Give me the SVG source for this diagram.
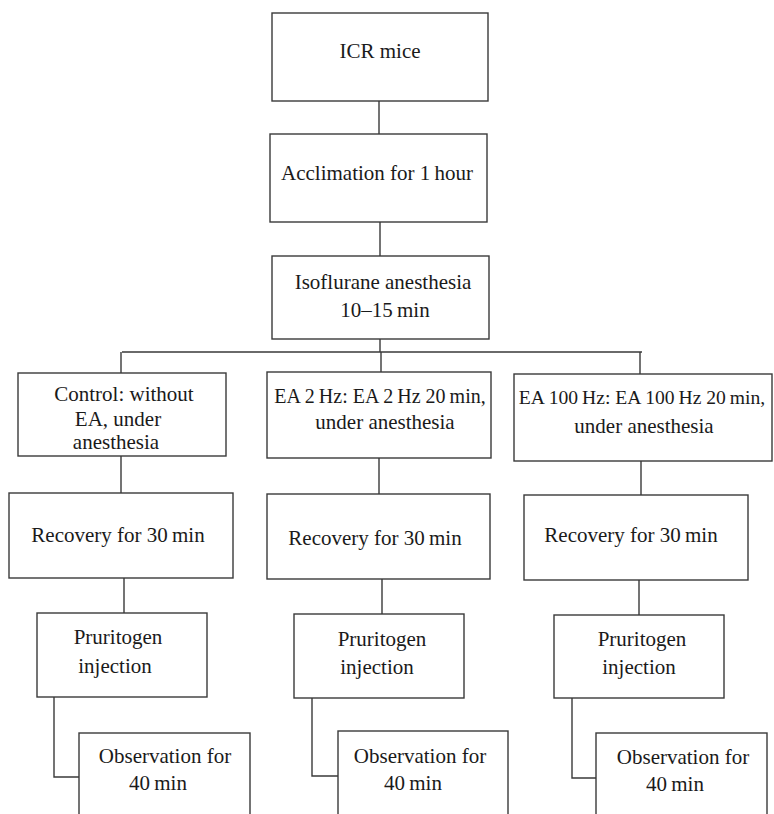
<svg xmlns="http://www.w3.org/2000/svg" width="774" height="814" viewBox="0 0 774 814">
<style>
.box{fill:#fff;stroke:#3a3a3a;stroke-width:1.4}
.ln{fill:none;stroke:#3a3a3a;stroke-width:1.4}
text{font-family:"Liberation Serif","Times New Roman",serif;font-size:21px;fill:#1a1a1a;text-anchor:middle}
</style>
<rect width="774" height="814" fill="#fff"/>
<g id="connectors">
<path class="ln" d="M379 101V134M380 222V256M380 339V352M122 352H642M121 352V373M381 352V372M640 352V374"/>
<path class="ln" d="M121 456V493M379 458V494M641 461V495"/>
<path class="ln" d="M124 578V613M382 579V614M639 580V615"/>
<path class="ln" d="M54 697V777H79M312 698V776H338M572 698V778H596"/>
</g>
<g id="icr"><rect class="box" x="272" y="13" width="216" height="88"/><text x="380" y="58">ICR mice</text></g>
<g id="acclimation"><rect class="box" x="270" y="134" width="217" height="88"/><text x="377" y="180">Acclimation for 1&#8201;hour</text></g>
<g id="isoflurane"><rect class="box" x="272" y="256" width="217" height="83"/><text x="383" y="289">Isoflurane anesthesia</text><text x="385" y="317">10–15&#8201;min</text></g>
<g id="control"><rect class="box" x="18" y="373" width="208" height="83"/><text x="124" y="401">Control: without</text><text x="118" y="426">EA, under</text><text x="116" y="449">anesthesia</text></g>
<g id="ea2"><rect class="box" x="267" y="372" width="224" height="86"/><text x="380" y="403" style="font-size:20px">EA 2&#8201;Hz: EA 2&#8201;Hz 20&#8201;min,</text><text x="385" y="429">under anesthesia</text></g>
<g id="ea100"><rect class="box" x="514" y="374" width="258" height="87"/><text x="642" y="404" style="font-size:19.6px">EA 100&#8201;Hz: EA 100&#8201;Hz 20&#8201;min,</text><text x="644" y="433">under anesthesia</text></g>
<g id="rec1"><rect class="box" x="9" y="493" width="224" height="85"/><text x="118" y="542">Recovery for 30&#8201;min</text></g>
<g id="rec2"><rect class="box" x="267" y="494" width="223" height="85"/><text x="375" y="545">Recovery for 30&#8201;min</text></g>
<g id="rec3"><rect class="box" x="524" y="495" width="224" height="85"/><text x="631" y="542">Recovery for 30&#8201;min</text></g>
<g id="pru1"><rect class="box" x="37" y="613" width="170" height="84"/><text x="118" y="644">Pruritogen</text><text x="115" y="673">injection</text></g>
<g id="pru2"><rect class="box" x="294" y="614" width="170" height="84"/><text x="382" y="646">Pruritogen</text><text x="377" y="674">injection</text></g>
<g id="pru3"><rect class="box" x="554" y="615" width="170" height="83"/><text x="642" y="646">Pruritogen</text><text x="639" y="674">injection</text></g>
<g id="obs1"><rect class="box" x="79" y="733" width="171" height="100"/><text x="165" y="763">Observation for</text><text x="158" y="790">40&#8201;min</text></g>
<g id="obs2"><rect class="box" x="338" y="731" width="170" height="100"/><text x="420" y="763">Observation for</text><text x="413" y="790">40&#8201;min</text></g>
<g id="obs3"><rect class="box" x="596" y="733" width="171" height="100"/><text x="683" y="764">Observation for</text><text x="675" y="791">40&#8201;min</text></g>
</svg>
